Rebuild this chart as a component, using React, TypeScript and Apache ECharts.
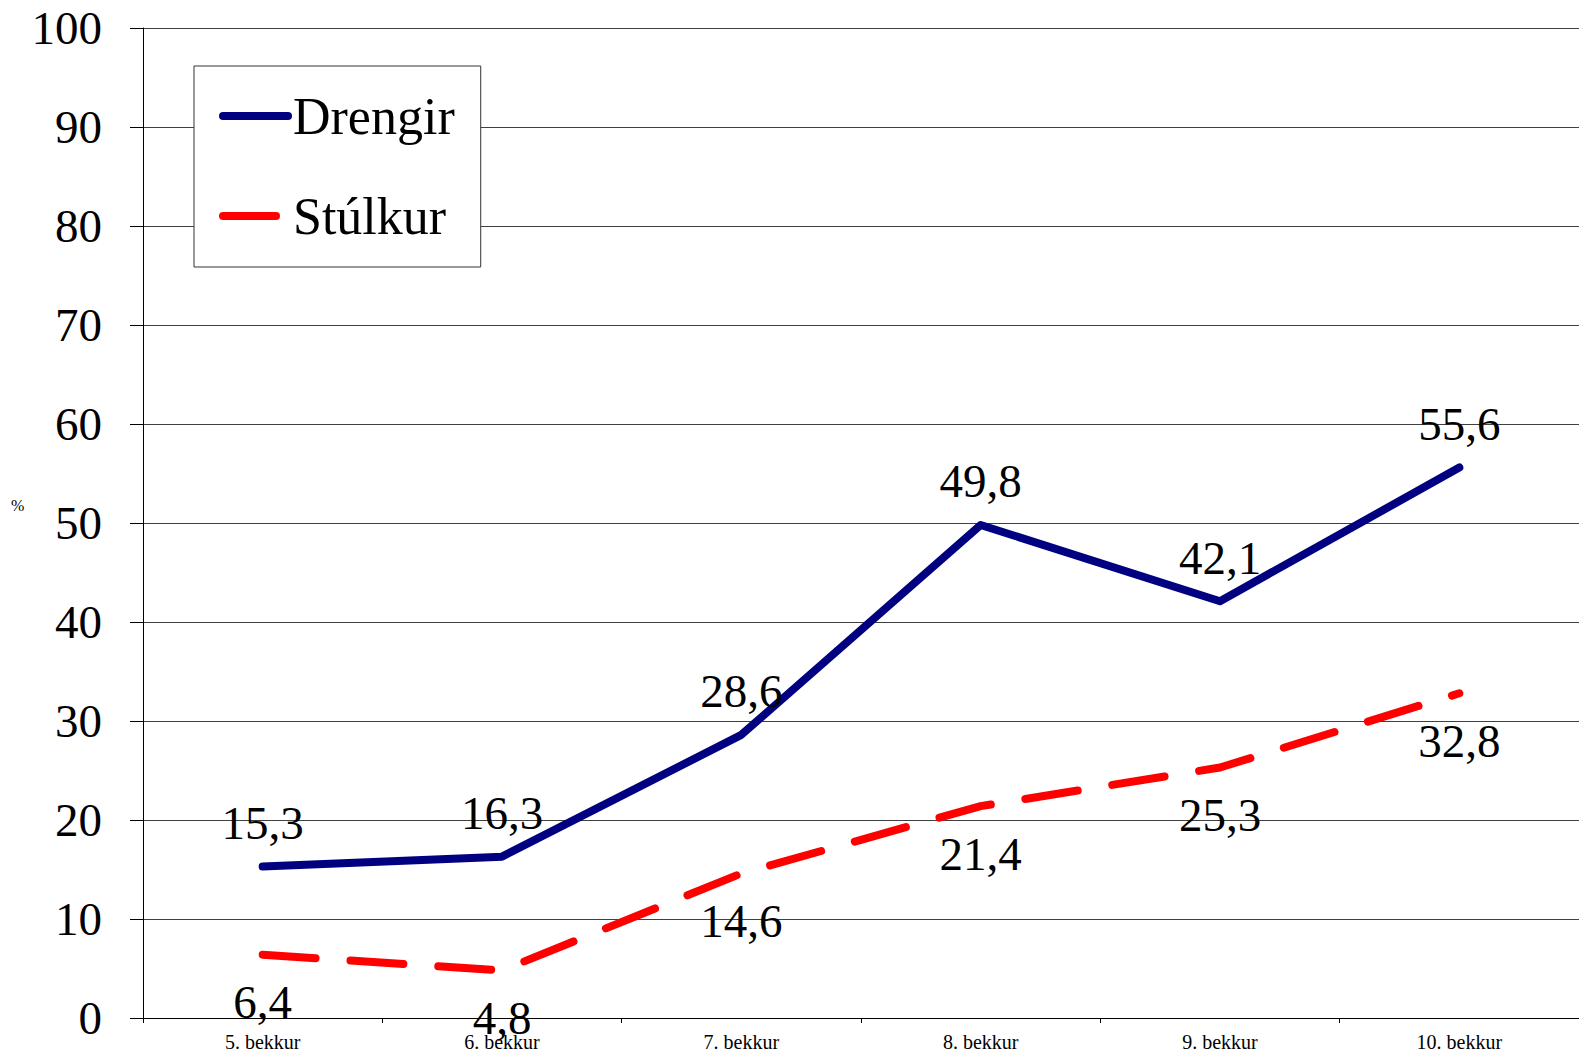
import React, { useEffect, useRef } from "react";
import * as echarts from "echarts";

const categories = ["5. bekkur", "6. bekkur", "7. bekkur", "8. bekkur", "9. bekkur", "10. bekkur"];
const drengir = [15.3, 16.3, 28.6, 49.8, 42.1, 55.6];
const stulkur = [6.4, 4.8, 14.6, 21.4, 25.3, 32.8];
const seriesNames = ["Drengir", "Stúlkur"];
const yMin = 0;
const yMax = 100;
const yInterval = 10;

const FONT = "'Liberation Serif', 'Times New Roman', Times, serif";

const fmt = (p: any) => String(p.value).replace(".", ",");

export default function App() {
  const ref = useRef<HTMLDivElement>(null);
  useEffect(() => {
    if (!ref.current) return;
    const chart = echarts.init(ref.current, null, { renderer: "svg" });
    chart.setOption({
      animation: false,
      backgroundColor: "#ffffff",
      textStyle: { fontFamily: FONT },
      grid: { left: 143, top: 28, bottom: 39, width: 1438, containLabel: false },
      legend: {
        orient: "vertical",
        left: 194,
        top: 66,
        padding: [20, 26, 21, 25],
        itemGap: 40,
        itemWidth: 65,
        itemHeight: 60,
        itemTextGap: 8,
        backgroundColor: "#ffffff",
        borderColor: "#333333",
        borderWidth: 1,
        borderRadius: 0,
        textStyle: { fontFamily: FONT, fontSize: 52, color: "#000000", lineHeight: 60 },
        itemStyle: { opacity: 0 },
        lineStyle: { width: 8, cap: "round" },
        data: seriesNames,
      },
      xAxis: {
        type: "category",
        data: categories,
        boundaryGap: true,
        axisLine: { show: true, lineStyle: { color: "#000000", width: 1 } },
        axisTick: { show: true, inside: false, length: 5, lineStyle: { color: "#000000" } },
        axisLabel: { fontFamily: FONT, fontSize: 20, color: "#000000", margin: 14 },
        splitLine: { show: false },
      },
      yAxis: {
        type: "value",
        min: yMin,
        max: yMax,
        interval: yInterval,
        axisLine: { show: true, lineStyle: { color: "#000000", width: 1 } },
        axisTick: { show: true, inside: false, length: 13, lineStyle: { color: "#000000" } },
        axisLabel: { fontFamily: FONT, fontSize: 47, color: "#000000", margin: 41 },
        splitLine: { show: true, lineStyle: { color: "#404040", width: 1 } },
      },
      graphic: [
        {
          type: "text",
          left: 11,
          top: 497,
          style: { text: "%", fontFamily: FONT, fontSize: 16, fill: "#000000" },
        },
      ],
      series: [
        {
          name: seriesNames[0],
          type: "line",
          data: drengir,
          symbol: "circle",
          symbolSize: 0,
          showSymbol: true,
          color: "#000080",
          lineStyle: { color: "#000080", width: 8, cap: "round", join: "round" },
          label: {
            show: true,
            position: "top",
            distance: 20,
            formatter: fmt,
            fontFamily: FONT,
            fontSize: 47,
            color: "#000000",
          },
          z: 3,
        },
        {
          name: seriesNames[1],
          type: "line",
          data: stulkur,
          symbol: "circle",
          symbolSize: 0,
          showSymbol: true,
          color: "#ff0000",
          lineStyle: { color: "#ff0000", width: 8, type: [53, 35], cap: "round", join: "round" },
          label: {
            show: true,
            position: "bottom",
            distance: 24,
            formatter: fmt,
            fontFamily: FONT,
            fontSize: 47,
            color: "#000000",
          },
          z: 2,
        },
      ],
    });
    return () => chart.dispose();
  }, []);
  return (
    <div
      ref={ref}
      style={{ position: "absolute", left: 0, top: 0, width: 1579, height: 1057 }}
    />
  );
}
